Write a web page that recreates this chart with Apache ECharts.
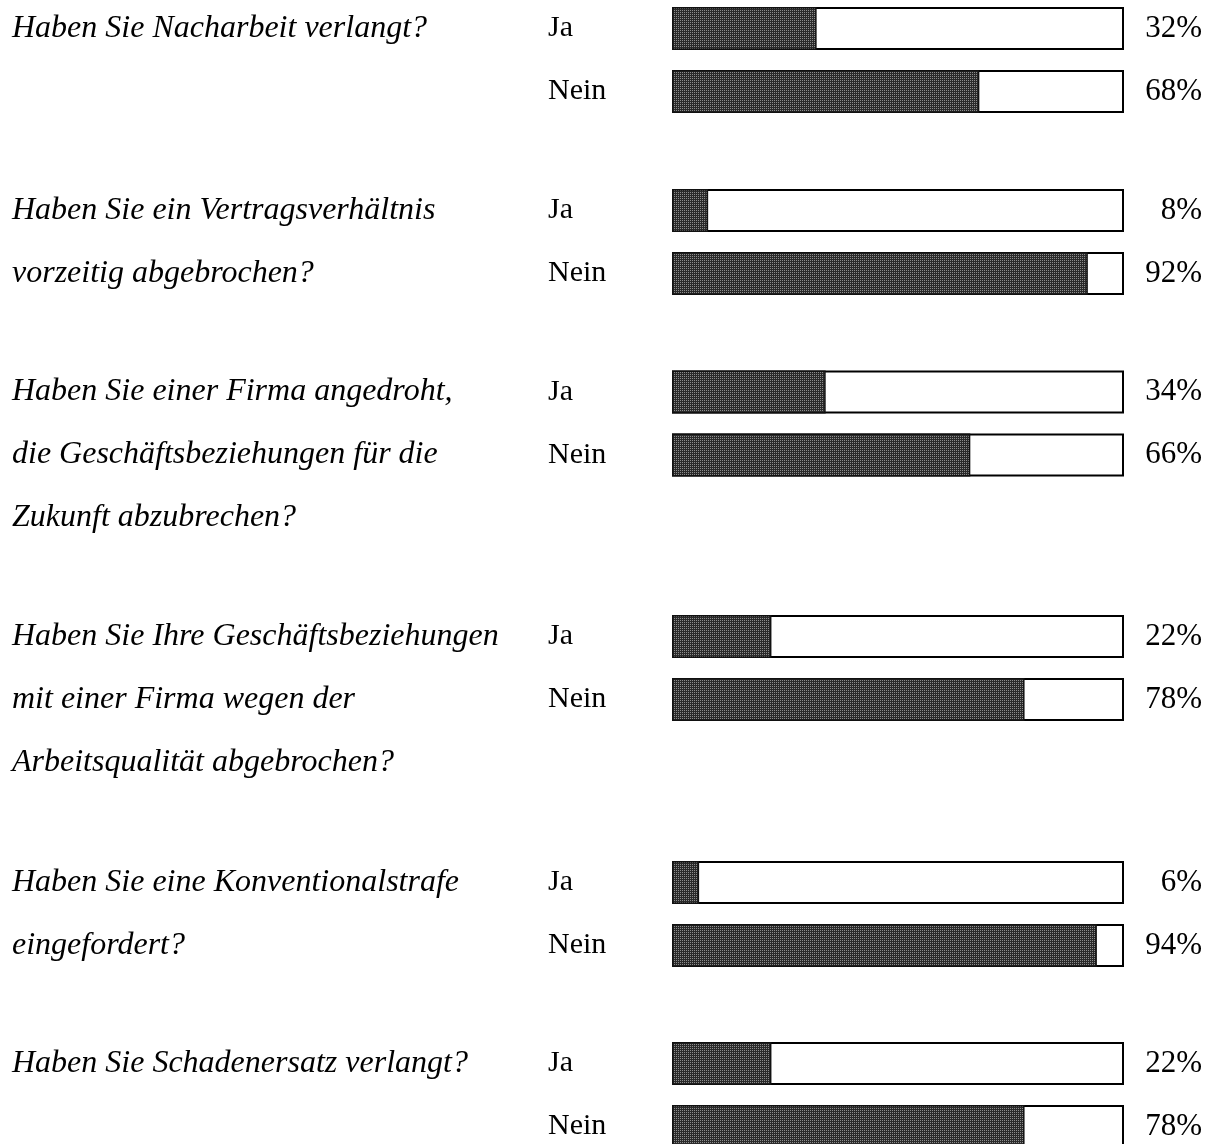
<!DOCTYPE html>
<html>
<head>
<meta charset="utf-8">
<script src="https://cdn.jsdelivr.net/npm/echarts@6/dist/echarts.min.js"></script>
<style>
html,body{margin:0;padding:0;background:#fff;}
#chart{width:1213px;height:1144px;}
</style>
</head>
<body>
<div id="chart"></div>
<script>
// ---- data ----
const questions = [
  ["Haben Sie Nacharbeit verlangt?"],
  ["Haben Sie ein Vertragsverhältnis", "vorzeitig abgebrochen?"],
  ["Haben Sie einer Firma angedroht,", "die Geschäftsbeziehungen für die", "Zukunft abzubrechen?"],
  ["Haben Sie Ihre Geschäftsbeziehungen", "mit einer Firma wegen der", "Arbeitsqualität abgebrochen?"],
  ["Haben Sie eine Konventionalstrafe", "eingefordert?"],
  ["Haben Sie Schadenersatz verlangt?"]
];
const answers = ["Ja", "Nein"];
const jaPct = [32, 8, 34, 22, 6, 22];
const neinPct = [68, 92, 66, 78, 94, 78];

// ---- layout (pixels) ----
const H = 1144;
const jaCenters = [28.5, 210.5, 392, 636.5, 882.5, 1063.5];
const rowStep = 63;
const barH = 43;
const plotLeft = 672, plotRight = 1213 - 1124;
const font = '"Liberation Serif", "Times New Roman", serif';

// pattern for filled part
const pc = document.createElement('canvas');
pc.width = 2; pc.height = 2;
const pctx = pc.getContext('2d');
pctx.fillStyle = '#2a2a2a'; pctx.fillRect(0,0,2,2);
pctx.fillStyle = '#8c8c8c'; pctx.fillRect(0,0,1,1);

const grids = [], xAxes = [], yAxes = [], series = [], graphics = [];
questions.forEach((q, i) => {
  const top = jaCenters[i] - rowStep / 2;
  grids.push({left: plotLeft, right: plotRight, top: top, height: rowStep * 2, outerBoundsMode: 'none'});
  xAxes.push({gridIndex: i, type: 'value', min: 0, max: 100, show: false});
  yAxes.push({
    gridIndex: i, type: 'category', data: answers, inverse: true,
    axisLine: {show: false}, axisTick: {show: false}, splitLine: {show: false},
    axisLabel: {align: 'left', margin: plotLeft - 548, fontFamily: font, fontSize: 30, color: '#000'}
  });
  const vals = [jaPct[i], neinPct[i]];
  series.push({
    type: 'bar', xAxisIndex: i, yAxisIndex: i, silent: true,
    data: [100, 100], barWidth: barH, barGap: '-100%', z: 2,
    itemStyle: {color: '#fff', borderColor: '#000', borderWidth: 2},
    label: {
      show: true, position: 'right', distance: 1202 - 1124, align: 'right',
      fontFamily: font, fontSize: 31, color: '#000',
      formatter: p => vals[p.dataIndex] + '%'
    }
  });
  series.push({
    type: 'bar', xAxisIndex: i, yAxisIndex: i, silent: true,
    data: vals, barWidth: barH, z: 3,
    itemStyle: {color: {image: pc, repeat: 'repeat'}, borderColor: '#111', borderWidth: 1.5}
  });
  graphics.push({
    type: 'text', left: 12, top: jaCenters[i] - rowStep / 2,
    style: {
      text: q.join('\n'), font: 'italic 32px ' + font, fill: '#000',
      lineHeight: rowStep, verticalAlign: 'top'
    }
  });
});

const chart = echarts.init(document.getElementById('chart'), null, {renderer: 'canvas'});
chart.setOption({
  animation: false,
  backgroundColor: '#fff',
  grid: grids, xAxis: xAxes, yAxis: yAxes, series: series,
  graphic: graphics
});
</script>
</body>
</html>
